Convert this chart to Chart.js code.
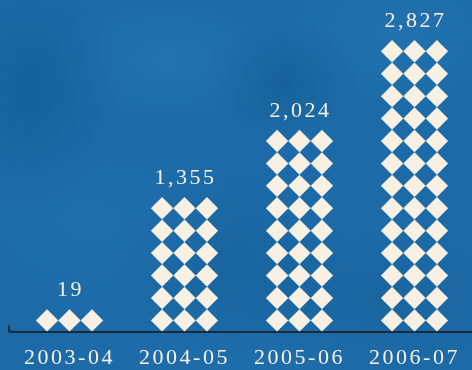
<!DOCTYPE html>
<html>
<head>
<meta charset="utf-8">
<script src="https://cdn.jsdelivr.net/npm/chart.js@4/dist/chart.umd.min.js"></script>
<style>
  html, body { margin: 0; padding: 0; }
  body {
    width: 472px; height: 370px; overflow: hidden;
    background-color: #1c6ba8;
    background-image:
      radial-gradient(ellipse 90px 120px at 30px 90px, rgba(16,88,140,0.55), rgba(16,88,140,0)),
      radial-gradient(ellipse 120px 70px at 170px 60px, rgba(50,130,195,0.35), rgba(50,130,195,0)),
      radial-gradient(ellipse 80px 60px at 280px 80px, rgba(16,85,135,0.45), rgba(16,85,135,0)),
      radial-gradient(ellipse 140px 90px at 400px 30px, rgba(45,125,190,0.35), rgba(45,125,190,0)),
      radial-gradient(ellipse 160px 100px at 90px 220px, rgba(40,120,185,0.3), rgba(40,120,185,0)),
      radial-gradient(ellipse 120px 100px at 230px 260px, rgba(18,90,145,0.4), rgba(18,90,145,0)),
      radial-gradient(ellipse 150px 80px at 380px 300px, rgba(20,92,148,0.4), rgba(20,92,148,0)),
      radial-gradient(ellipse 200px 50px at 240px 355px, rgba(35,115,178,0.35), rgba(35,115,178,0));
  }
  #wrap { position: relative; width: 472px; height: 385px; }
</style>
</head>
<body>
<div id="wrap"><canvas id="chart"></canvas></div>
<script>
const categories = ['2003-04', '2004-05', '2005-06', '2006-07'];
const values = [19, 1355, 2024, 2827];
const Y_MAX = 3200;

const CREAM = '#f8f0e3';
const LINE = '#1b2a38';

// draws each bar as a stack of 3-wide diamond rows, plus the value above it
const diamondBars = {
    id: 'diamondBars',
    beforeDraw(chart) {
        chart.ctx.letterSpacing = '2.5px';
    },
    afterDatasetsDraw(chart) {
        const ctx = chart.ctx;
        const meta = chart.getDatasetMeta(0);
        ctx.save();
        meta.data.forEach((bar, i) => {
            const p = bar.getProps(['x', 'y', 'base', 'width'], true);
            const colW = p.width / 3;
            const half = colW / 2;
            const rows = Math.max(1, Math.round((p.base - p.y) / colW));
            ctx.fillStyle = CREAM;
            for (let r = 0; r < rows; r++) {
                for (let c = 0; c < 3; c++) {
                    const cx = p.x - p.width / 2 + colW * (c + 0.5);
                    const cy = p.base - colW * (r + 0.5);
                    ctx.beginPath();
                    ctx.moveTo(cx, cy - half);
                    ctx.lineTo(cx + half, cy);
                    ctx.lineTo(cx, cy + half);
                    ctx.lineTo(cx - half, cy);
                    ctx.closePath();
                    ctx.fill();
                }
            }
            ctx.font = '22px "Liberation Serif", serif';
            ctx.textAlign = 'center';
            ctx.textBaseline = 'middle';
            ctx.fillText(values[i].toLocaleString('en-US'), p.x + 1, p.base - rows * colW - 19);
        });
        // short lead-in of the baseline with a little tick at its left end
        const area = chart.chartArea;
        ctx.strokeStyle = LINE;
        ctx.lineWidth = 2;
        ctx.beginPath();
        ctx.moveTo(9, area.bottom - 6);
        ctx.lineTo(9, area.bottom);
        ctx.lineTo(area.left + 1, area.bottom);
        ctx.stroke();
        ctx.restore();
    }
};

new Chart(document.getElementById('chart'), {
    type: 'bar',
    data: {
        labels: categories,
        datasets: [{
            data: values,
            backgroundColor: 'rgba(0,0,0,0)',
            categoryPercentage: 1,
            barPercentage: 0.585
        }]
    },
    options: {
        responsive: true,
        maintainAspectRatio: false,
        animation: false,
        layout: { padding: { left: 12, right: 0, top: 0, bottom: 1 } },
        plugins: {
            legend: { display: false },
            tooltip: { enabled: false }
        },
        scales: {
            y: { display: false, min: 0, max: Y_MAX },
            x: {
                grid: { display: false, drawTicks: false },
                border: { display: true, color: LINE, width: 2 },
                ticks: {
                    color: CREAM,
                    padding: 13,
                    font: { family: '"Liberation Serif", serif', size: 22 }
                }
            }
        }
    },
    plugins: [diamondBars]
});
</script>
</body>
</html>
